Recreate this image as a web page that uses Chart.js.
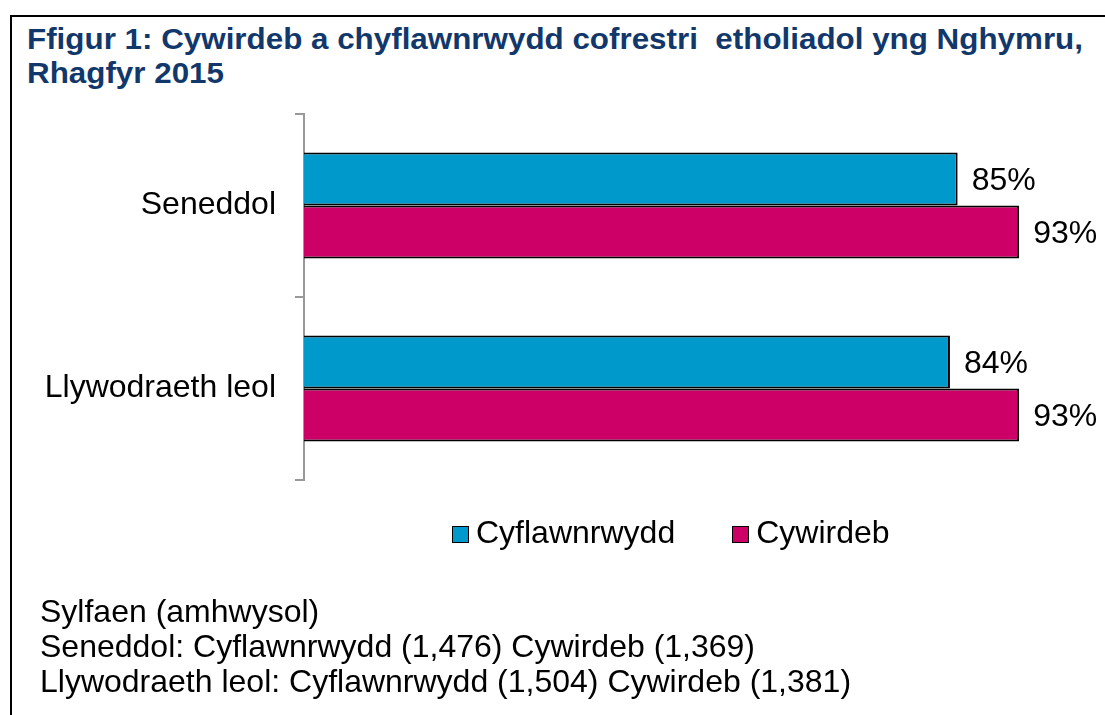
<!DOCTYPE html>
<html>
<head>
<meta charset="utf-8">
<script src="https://cdn.jsdelivr.net/npm/chart.js@4.4.1/dist/chart.umd.min.js"></script>
<style>
  body { margin: 0; background: #fff; }
  #wrap { position: relative; width: 1105px; height: 715px; overflow: hidden; font-family: "Liberation Sans", Arial, sans-serif; }
  #frame { position: absolute; left: 10px; top: 15px; width: 1200px; height: 800px; border-left: 2px solid #000; border-top: 2px solid #000; }
  #title { position: absolute; left: 27px; top: 22px; font-size: 29px; line-height: 34px; font-weight: bold; color: #12386b; white-space: nowrap; transform-origin: 0 0; }
  #legend { position: absolute; left: 452px; top: 512px; font-size: 32px; line-height: 40px; white-space: nowrap; }
  #legend span.item { display: inline-block; margin-right: 57px; }
  #legend span.box { display: inline-block; width: 15px; height: 15px; border: 1.5px solid #000; margin-right: 7px; vertical-align: 0px; }
  #footer { position: absolute; left: 40px; top: 594px; font-size: 32px; line-height: 35px; white-space: nowrap; color: #000; }
  #chartBox { position: absolute; left: 0; top: 0; width: 1105px; height: 715px; }
</style>
</head>
<body>
<div id="wrap">
  <div id="frame"></div>
  <div id="title">Ffigur 1: Cywirdeb a chyflawnrwydd cofrestri&nbsp; etholiadol yng Nghymru,<br>Rhagfyr 2015</div>
  <div id="chartBox"><canvas id="myChart"></canvas></div>
  <div id="legend"></div>
  <div id="footer">Sylfaen (amhwysol)<br>Seneddol: Cyflawnrwydd (1,476) Cywirdeb (1,369)<br>Llywodraeth leol: Cyflawnrwydd (1,504) Cywirdeb (1,381)</div>
</div>
<script>
// data
const categories = ['Seneddol', 'Llywodraeth leol'];
const seriesNames = ['Cyflawnrwydd', 'Cywirdeb'];
const completeness = [85, 84];
const accuracy = [93, 93];
const seriesColors = ['#0099cc', '#cc0066'];

// squeeze the title to the width it has in the original
const title = document.getElementById('title');
// first line is the long one
const range = document.createRange();
range.setStart(title.firstChild, 0);
range.setEnd(title.firstChild, title.firstChild.length);
const lineW = range.getBoundingClientRect().width;
title.style.transform = 'scaleX(' + (1056 / lineW) + ')';

// legend
const legend = document.getElementById('legend');
seriesNames.forEach(function (name, i) {
    const item = document.createElement('span');
    item.className = 'item';
    item.innerHTML = '<span class="box" style="background:' + seriesColors[i] + '"></span>' + name;
    legend.appendChild(item);
});

const valueLabels = {
    id: 'valueLabels',
    afterDatasetsDraw(chart) {
        const ctx = chart.ctx;
        ctx.save();
        ctx.font = '32px "Liberation Sans", Arial, sans-serif';
        ctx.fillStyle = '#000';
        ctx.textAlign = 'left';
        ctx.textBaseline = 'middle';
        chart.data.datasets.forEach(function (ds, i) {
            chart.getDatasetMeta(i).data.forEach(function (bar, j) {
                ctx.fillText(ds.data[j] + '%', bar.x + 14, bar.y + 2);
            });
        });
        ctx.restore();
    }
};

const ctx = document.getElementById('myChart');
new Chart(ctx, {
    type: 'bar',
    data: {
        labels: categories,
        datasets: [{
            label: seriesNames[0],
            data: completeness,
            backgroundColor: seriesColors[0],
            borderColor: '#000',
            borderWidth: 2
        }, {
            label: seriesNames[1],
            data: accuracy,
            backgroundColor: seriesColors[1],
            borderColor: '#000',
            borderWidth: 2
        }]
    },
    options: {
        indexAxis: 'y',
        responsive: true,
        maintainAspectRatio: false,
        animation: false,
        categoryPercentage: 0.58,
        barPercentage: 1,
        layout: { padding: { top: 114, bottom: 235, left: 0, right: 32 } },
        plugins: {
            legend: { display: false },
            tooltip: { enabled: false }
        },
        scales: {
            x: { display: false, min: 0, max: 100 },
            y: {
                afterFit: function (scale) { scale.width = 304; },
                border: { display: true, color: '#999', width: 2 },
                grid: { offset: true, drawOnChartArea: false, drawTicks: true, tickLength: 9, color: '#999', lineWidth: 2 },
                ticks: { padding: 19, color: '#000', font: { family: '"Liberation Sans", Arial, sans-serif', size: 32 } }
            }
        }
    },
    plugins: [valueLabels]
});
</script>
</body>
</html>
